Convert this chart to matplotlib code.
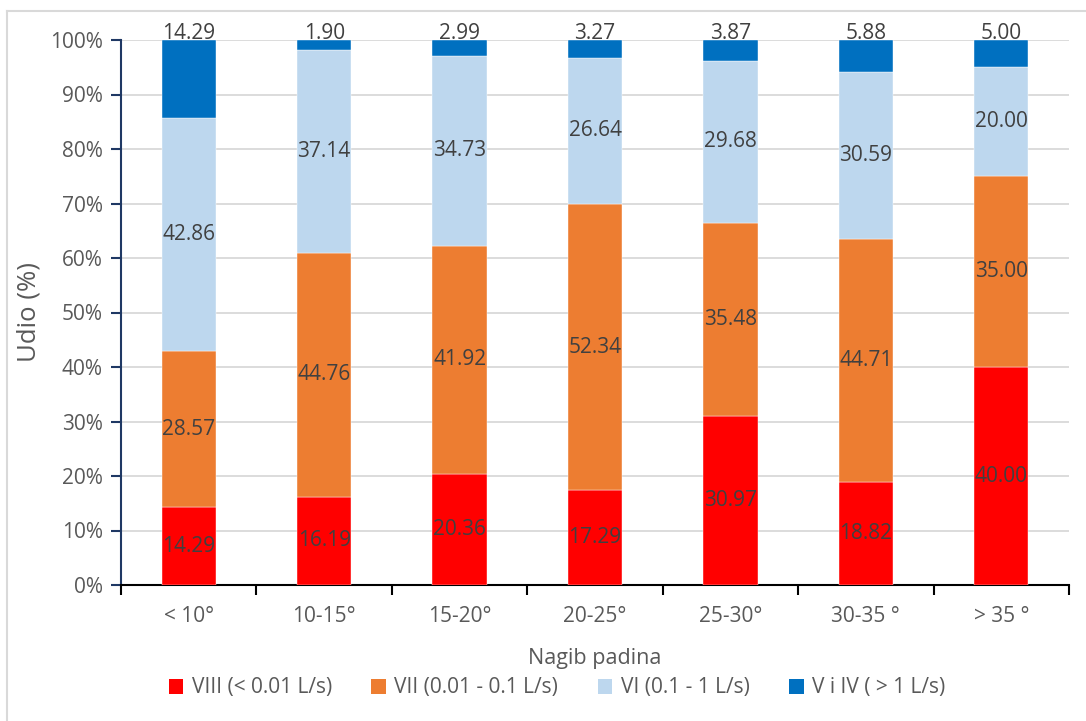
import matplotlib
matplotlib.use("Agg")
import matplotlib.pyplot as plt
import numpy as np
from matplotlib.patches import Patch
from matplotlib.lines import Line2D

plt.rcParams['font.family'] = ['Open Sans', 'DejaVu Sans']

categories = ["< 10°", "10-15°", "15-20°", "20-25°", "25-30°", "30-35 °", "> 35 °"]
series_names = ["VIII (< 0.01 L/s)", "VII (0.01 - 0.1 L/s)", "VI (0.1 - 1 L/s)", "V i IV ( > 1 L/s)"]
viii = [14.29, 16.19, 20.36, 17.29, 30.97, 18.82, 40.00]
vii = [28.57, 44.76, 41.92, 52.34, 35.48, 44.71, 35.00]
vi = [42.86, 37.14, 34.73, 26.64, 29.68, 30.59, 20.00]
v_iv = [14.29, 1.90, 2.99, 3.27, 3.87, 5.88, 5.00]
colors = ["#FF0000", "#ED7D31", "#BDD7EE", "#0070C0"]

fig = plt.figure(figsize=(10.86, 7.21), dpi=100)
W, H = 1086, 721
ax = fig.add_axes([121 / W, 1 - 585 / H, (1069 - 121) / W, (585 - 40) / H])

x = np.arange(len(categories))
data = [viii, vii, vi, v_iv]
tot = np.sum(data, axis=0)
bottom = np.zeros(len(categories))
txtc = "#404040"
fs = 15
for i, (vals, c) in enumerate(zip(data, colors)):
    pct = np.array(vals) / tot * 100
    ax.bar(x, pct, 0.40, bottom=bottom, color=c, edgecolor='white', linewidth=0.3, zorder=3)
    for j, (v, p) in enumerate(zip(vals, pct)):
        if i < 3:
            ax.text(x[j], bottom[j] + p / 2, f"{v:.2f}", ha='center', va='center',
                    fontsize=fs, color=txtc, zorder=4)
        else:
            ax.text(x[j], 100.2, f"{v:.2f}", ha='center', va='baseline',
                    fontsize=fs, color=txtc, zorder=4)
    bottom += pct

ax.set_xlim(-0.5, len(categories) - 0.5)
ax.set_ylim(0, 100)
ax.set_yticks(np.arange(0, 101, 10))
ax.set_yticklabels([f"{t}%" for t in range(0, 101, 10)])
ax.yaxis.grid(True, color='#D9D9D9', linewidth=1.3, zorder=0)
ax.set_axisbelow(True)

ax.set_xticks(x)
ax.set_xticklabels(categories)
ax.set_xticks(np.arange(-0.5, len(categories)), minor=True)
ax.tick_params(axis='x', which='major', length=0, pad=15, labelsize=fs, labelcolor='#595959')
ax.tick_params(axis='x', which='minor', length=7, width=1.5, color='black', direction='out')
ax.tick_params(axis='y', length=7, width=1.5, color='#1F3864', labelsize=fs, labelcolor='#595959', pad=6)

for s in ['top', 'right']:
    ax.spines[s].set_visible(False)
ax.spines['left'].set_color('#1F3864')
ax.spines['left'].set_linewidth(1.5)
ax.spines['bottom'].set_color('black')
ax.spines['bottom'].set_linewidth(1.5)

ax.set_ylabel("Udio (%)", fontsize=18.5, color='#595959', labelpad=6)
ax.set_xlabel("Nagib padina", fontsize=15.5, color='#595959', labelpad=15)

handles = [Patch(facecolor=c, edgecolor='none') for c in colors]
leg = fig.legend(handles, series_names, loc='center', bbox_to_anchor=(557 / W, 1 - 688 / H),
                 ncol=4, frameon=False, fontsize=fs, handlelength=0.7, handleheight=0.7,
                 handletextpad=0.4, columnspacing=1.9)
for t in leg.get_texts():
    t.set_color('#595959')

# chart border
fig.add_artist(Line2D([7 / W, 7 / W], [0, 1 - 11 / H], transform=fig.transFigure, color='#D9D9D9', lw=1.5))
fig.add_artist(Line2D([7 / W, 1], [1 - 11 / H, 1 - 11 / H], transform=fig.transFigure, color='#D9D9D9', lw=1.5))

fig.savefig("out.png", dpi=100)
